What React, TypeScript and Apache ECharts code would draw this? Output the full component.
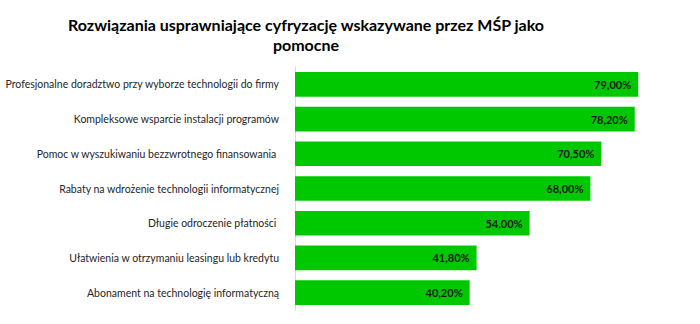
import React, { useEffect, useRef } from "react";
import * as echarts from "echarts";

const titleLines = [
  "Rozwiązania usprawniające cyfryzację wskazywane przez MŚP jako",
  "pomocne",
];

const categories = [
  "Profesjonalne doradztwo przy wyborze technologii do firmy",
  "Kompleksowe wsparcie instalacji programów",
  "Pomoc w wyszukiwaniu bezzwrotnego finansowania ",
  "Rabaty na wdrożenie technologii informatycznej",
  "Długie odroczenie płatności ",
  "Ułatwienia w otrzymaniu leasingu lub kredytu",
  "Abonament na technologię informatyczną",
];

const values = [79.0, 78.2, 70.5, 68.0, 54.0, 41.8, 40.2];

export default function App() {
  const ref = useRef<HTMLDivElement>(null);

  useEffect(() => {
    if (!ref.current) return;
    const chart = echarts.init(ref.current, undefined, { renderer: "svg" });
    chart.setOption({
      animation: false,
      backgroundColor: "#ffffff",
      graphic: [
        {
          type: "text",
          x: 306,
          y: 14,
          style: {
            text: titleLines.join("\n"),
            textAlign: "center",
            fontFamily: "Lato",
            fontWeight: "bold",
            fontSize: 16,
            lineHeight: 20.5,
            fill: "#000000",
          },
        },
      ],
      grid: {
        left: 295,
        right: 14,
        top: 67,
        bottom: 14,
        containLabel: false,
        outerBoundsMode: "none",
      },
      xAxis: {
        type: "value",
        min: 0,
        max: 90,
        show: false,
      },
      yAxis: {
        type: "category",
        inverse: true,
        data: categories,
        axisTick: { show: false },
        axisLine: { show: true, lineStyle: { color: "#d9d9d9", width: 1 } },
        axisLabel: {
          margin: 16,
          color: "#262626",
          fontFamily: "Lato",
          fontSize: 10.5,
        },
      },
      series: [
        {
          type: "bar",
          data: values,
          barCategoryGap: "29%",
          itemStyle: { color: "#00C800" },
          label: {
            show: true,
            position: "insideRight",
            distance: 7,
            color: "#1a1a1a",
            fontFamily: "Lato",
            fontWeight: "bold",
            fontSize: 11,
            formatter: (p: any) => p.value.toFixed(2).replace(".", ",") + "%",
          },
        },
      ],
    });
    return () => chart.dispose();
  }, []);

  return <div ref={ref} style={{ width: 700, height: 324, position: "absolute", left: 0, top: 0 }} />;
}
